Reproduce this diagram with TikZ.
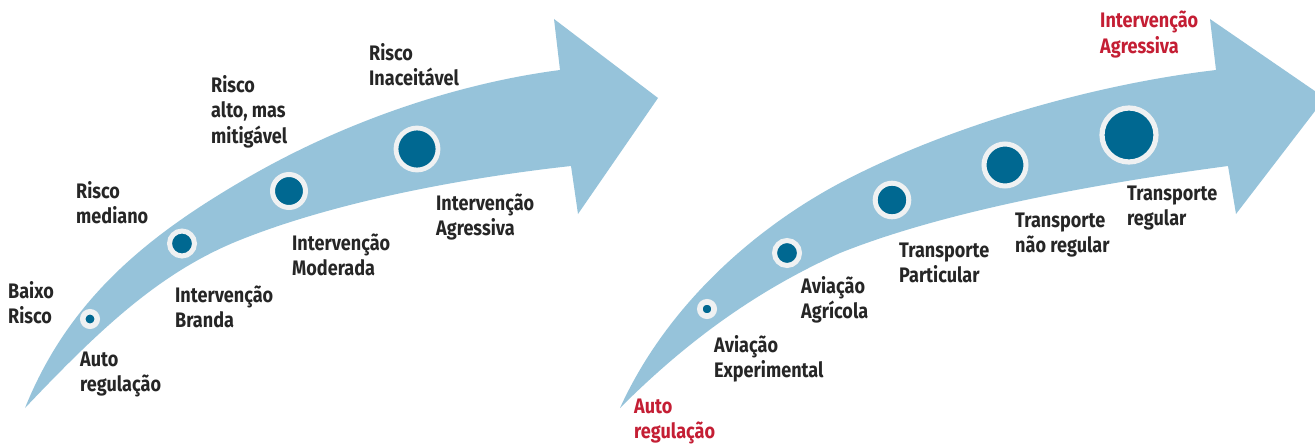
\documentclass[tikz,border=0pt]{standalone}
\usepackage{fontspec}
\setmainfont{Fira Sans}[FakeStretch=0.86]
\definecolor{arrowblue}{RGB}{150,195,218}
\definecolor{dotblue}{RGB}{0,104,145}
\definecolor{ringgray}{RGB}{239,241,242}
\definecolor{txtdark}{RGB}{38,38,38}
\definecolor{txtred}{RGB}{196,30,52}
\tikzset{
  band/.style={fill=arrowblue, draw=none},
  dot/.style 2 args={circle, inner sep=0pt, fill=dotblue, draw=ringgray, line width=#2, minimum size=#1},
  lbl/.style={anchor=base west, align=left, inner sep=0pt, text=txtdark, font=\bfseries\fontsize{21}{25.5}\selectfont},
  redlbl/.style={lbl, text=txtred}
}
\begin{document}
\begin{tikzpicture}[x=1pt, y=-1pt]
\useasboundingbox (0,0) rectangle (1315,444);
% left arrow
\path[band] (25,408) .. controls (70,296) and (152,233) .. (247,178)
  .. controls (347,120) and (460,83) .. (560,70)
  -- (554,19) -- (658,98) -- (578,214) -- (571,166)
  .. controls (471,177) and (340,200) .. (240,240)
  .. controls (160,272) and (100,329) .. (25,408) -- cycle;
% right arrow
\path[band] (620,408) .. controls (665,309) and (750,231) .. (840,183)
  .. controls (950,125) and (1096,84) .. (1216,70)
  -- (1210,19) -- (1325,98) -- (1236,214) -- (1228,166)
  .. controls (1108,182) and (950,209) .. (840,253)
  .. controls (760,289) and (690,338) .. (620,408) -- cycle;
% left dots
\node[dot={14.5pt}{5.5pt}] (c1) at (90,319) {};
\node[dot={25pt}{5pt}] (c2) at (182,243.5) {};
\node[dot={33pt}{5pt}] (c3) at (289,191) {};
\node[dot={42pt}{4.8pt}] (c4) at (417,149) {};
% right dots
\node[dot={14.3pt}{5.7pt}] (r1) at (707,309) {};
\node[dot={25pt}{5pt}] (r2) at (787,253) {};
\node[dot={33.6pt}{5pt}] (r3) at (892,200) {};
\node[dot={42pt}{5pt}] (r4) at (1005,165) {};
\node[dot={54pt}{5.2pt}] (r5) at (1129,135) {};
% left labels (anchor = baseline of last line)
\node[lbl] (l1) at (8,323.5) {Baixo\\Risco};
\node[lbl] (l2) at (80,391.5) {Auto\\regulação};
\node[lbl] (l3) at (76,223.5) {Risco\\mediano};
\node[lbl] (l4) at (175,327.5) {Intervenção\\Branda};
\node[lbl] (l5) at (211,143) {Risco\\alto, mas\\mitigável};
\node[lbl] (l6) at (292,275.5) {Intervenção\\Moderada};
\node[lbl] (l7) at (369,85.5) {Risco\\Inaceitável};
\node[lbl] (l8) at (436,235.5) {Intervenção\\Agressiva};
% right labels
\node[redlbl] (m1) at (1100,53.5) {Intervenção\\Agressiva};
\node[lbl] (m2) at (1127,225.5) {Transporte\\regular};
\node[lbl] (m3) at (1015,252.5) {Transporte\\não regular};
\node[lbl] (m4) at (899,282.5) {Transporte\\Particular};
\node[lbl] (m5) at (801,318.5) {Aviação\\Agrícola};
\node[lbl] (m6) at (714,377.5) {Aviação\\Experimental};
\node[redlbl] (m7) at (634,438.5) {Auto\\regulação};
\end{tikzpicture}
\end{document}
